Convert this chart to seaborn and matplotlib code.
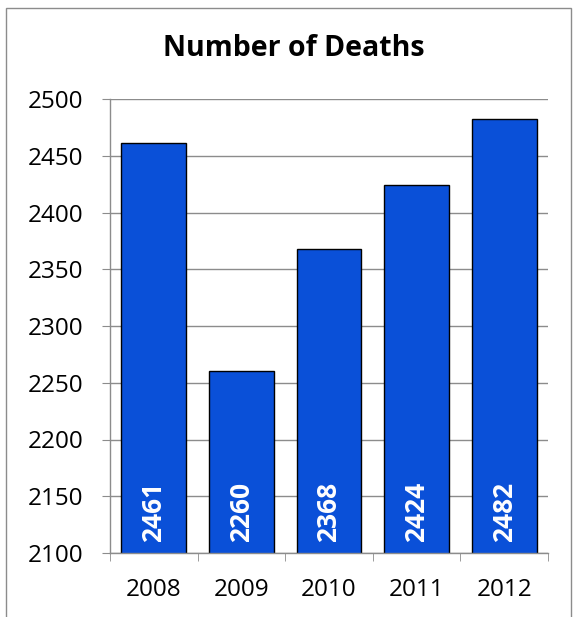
import matplotlib
matplotlib.use("Agg")
import matplotlib.pyplot as plt
import seaborn as sns
from matplotlib.patches import Rectangle

years = ["2008", "2009", "2010", "2011", "2012"]
deaths = [2461, 2260, 2368, 2424, 2482]

sns.set_style("white")
plt.rcParams["font.family"] = ["Open Sans", "DejaVu Sans"]
plt.rcParams["text.color"] = "black"
plt.rcParams["xtick.labelcolor"] = "black"
plt.rcParams["ytick.labelcolor"] = "black"

fig = plt.figure(figsize=(5.76, 6.17), dpi=100)
ax = fig.add_axes([110 / 576, 1 - 553 / 617, 438 / 576, 454 / 617])

sns.barplot(x=years, y=deaths, color="#0A50D8", saturation=1, edgecolor="black",
            linewidth=1, width=0.74, ax=ax, zorder=3)

ax.set_ylim(2100, 2500)
ax.set_yticks(range(2100, 2501, 50))
ax.grid(axis="y", color="#8c8c8c", linewidth=1, zorder=0)
ax.set_xlabel("")
ax.set_ylabel("")

for s in ["top", "right"]:
    ax.spines[s].set_visible(False)
for s in ["left", "bottom"]:
    ax.spines[s].set_color("#8c8c8c")
    ax.spines[s].set_linewidth(1)
    ax.spines[s].set_zorder(4)

ax.tick_params(axis="y", which="major", direction="out", length=6, color="#8c8c8c",
               labelsize=17.5, pad=13, left=True)
ax.tick_params(axis="x", which="major", length=0, labelsize=17.5, pad=18)
ax.set_xticks([i + 0.5 for i in range(-1, len(years))], minor=True)
ax.tick_params(axis="x", which="minor", direction="out", length=6, color="#8c8c8c", bottom=True)
ax.set_xlim(-0.5, len(years) - 0.5)

for p, v in zip(ax.patches, deaths):
    ax.text(p.get_x() + p.get_width() / 2, 2110, str(v), rotation=90, ha="center",
            va="bottom", color="white", fontweight="bold", fontsize=19, zorder=5)

fig.text(294 / 576, 1 - 49 / 617, "Number of Deaths", ha="center", va="center",
         fontsize=20.5, fontweight="bold")

fig.patches.append(Rectangle((6 / 576, -0.1), 565 / 576, 1.1 - 8 / 617,
                             transform=fig.transFigure, fill=False,
                             edgecolor="#8c8c8c", linewidth=1))

fig.savefig("out.png", dpi=100)
